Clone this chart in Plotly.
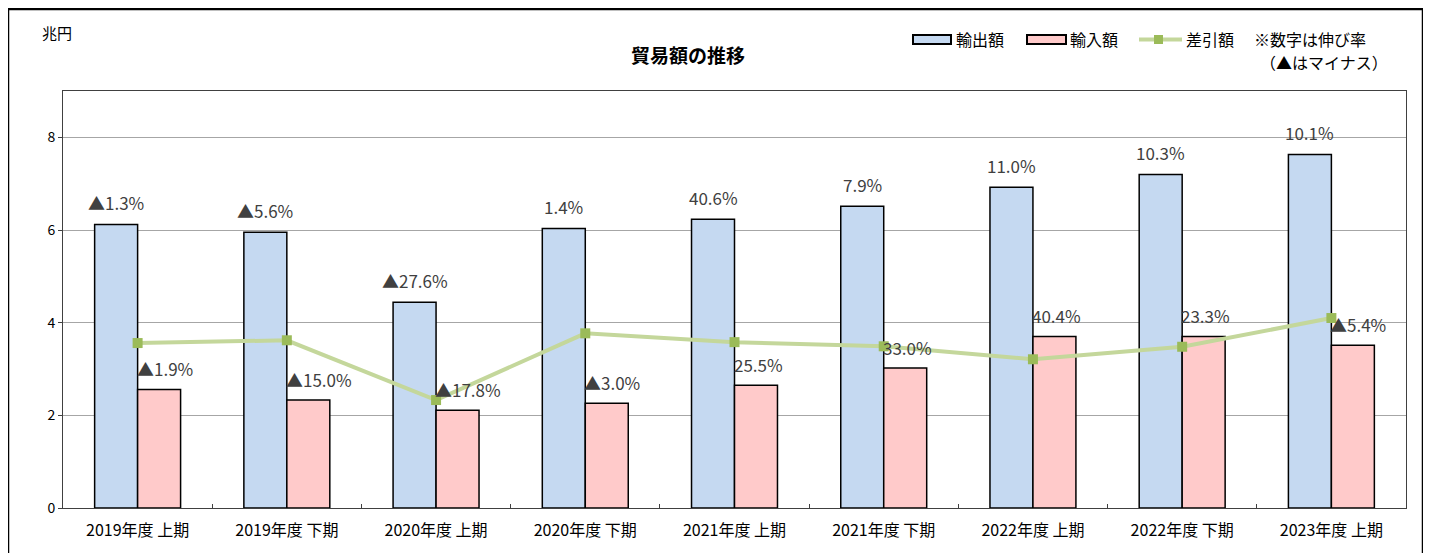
import plotly.graph_objects as go

categories = ["2019年度 上期", "2019年度 下期", "2020年度 上期", "2020年度 下期", "2021年度 上期",
              "2021年度 下期", "2022年度 上期", "2022年度 下期", "2023年度 上期"]
exports = [6.12, 5.95, 4.44, 6.03, 6.23, 6.51, 6.92, 7.20, 7.63]
imports = [2.56, 2.33, 2.11, 2.26, 2.65, 3.02, 3.70, 3.70, 3.51]
balance = [3.56, 3.62, 2.33, 3.77, 3.58, 3.49, 3.21, 3.48, 4.10]
export_growth = ["▲1.3%", "▲5.6%", "▲27.6%", "1.4%", "40.6%", "7.9%", "11.0%", "10.3%", "10.1%"]
import_growth = ["▲1.9%", "▲15.0%", "▲17.8%", "▲3.0%", "25.5%", "33.0%", "40.4%", "23.3%", "▲5.4%"]
y_ticks = [0, 2, 4, 6, 8]

OFF = 8  # page body margin
W, H = 1431 - OFF, 553 - OFF
# plot area in reference (window) pixel coordinates
L, R, T, B = 63, 1406, 91, 508
FONT = "Noto Sans CJK JP"


def px(x):
    return (x - L) / (R - L)


def py(y):
    return (B - y) / (B - T)


fig = go.Figure()
fig.add_trace(go.Bar(x=categories, y=exports, name="輸出額",
                     marker=dict(color="#C5D9F1", line=dict(color="#000000", width=1.5))))
fig.add_trace(go.Bar(x=categories, y=imports, name="輸入額",
                     marker=dict(color="#FFCACA", line=dict(color="#000000", width=1.5))))
fig.add_trace(go.Scatter(x=categories, y=balance, name="差引額", mode="lines+markers",
                         line=dict(color="#C4D79B", width=4),
                         marker=dict(symbol="square", size=10, color="#9BBB59")))

annotations = []
for c, v, t in zip(categories, exports, export_growth):
    annotations.append(dict(x=c, y=v, xref="x", yref="y", text=t, showarrow=False,
                            xshift=-21.5, yshift=22, xanchor="center", yanchor="middle",
                            font=dict(family=FONT, size=17, color="#404040")))
for c, v, t in zip(categories, imports, import_growth):
    annotations.append(dict(x=c, y=v, xref="x", yref="y", text=t, showarrow=False,
                            xshift=-3, yshift=21, xanchor="left", yanchor="middle",
                            font=dict(family=FONT, size=17, color="#404040")))

# title, unit, legend texts
annotations += [
    dict(x=px(688), y=py(54), xref="paper", yref="paper", text="<b>貿易額の推移</b>",
         showarrow=False, xanchor="center", yanchor="middle",
         font=dict(family=FONT, size=19, color="#000000")),
    dict(x=px(40), y=py(33), xref="paper", yref="paper", text="兆円",
         showarrow=False, xanchor="left", yanchor="middle",
         font=dict(family=FONT, size=15, color="#000000")),
    dict(x=px(954), y=py(39), xref="paper", yref="paper", text="輸出額",
         showarrow=False, xanchor="left", yanchor="middle",
         font=dict(family=FONT, size=16, color="#000000")),
    dict(x=px(1068), y=py(39), xref="paper", yref="paper", text="輸入額",
         showarrow=False, xanchor="left", yanchor="middle",
         font=dict(family=FONT, size=16, color="#000000")),
    dict(x=px(1184), y=py(39), xref="paper", yref="paper", text="差引額",
         showarrow=False, xanchor="left", yanchor="middle",
         font=dict(family=FONT, size=16, color="#000000")),
    dict(x=px(1252), y=py(39), xref="paper", yref="paper", text="※数字は伸び率",
         showarrow=False, xanchor="left", yanchor="middle",
         font=dict(family=FONT, size=16, color="#000000")),
    dict(x=px(1258), y=py(62), xref="paper", yref="paper", text="（▲はマイナス）",
         showarrow=False, xanchor="left", yanchor="middle",
         font=dict(family=FONT, size=16, color="#000000")),
]

shapes = [
    # outer frame
    dict(type="rect", xref="paper", yref="paper", x0=px(8), x1=px(1423), y0=py(570), y1=py(9),
         line=dict(color="#000000", width=2.5), layer="below"),
    # legend symbols
    dict(type="rect", xref="paper", yref="paper", x0=px(913), x1=px(951), y0=py(44), y1=py(35),
         fillcolor="#C5D9F1", line=dict(color="#000000", width=2)),
    dict(type="rect", xref="paper", yref="paper", x0=px(1027), x1=px(1066), y0=py(44), y1=py(35),
         fillcolor="#FFCACA", line=dict(color="#000000", width=2)),
    dict(type="line", xref="paper", yref="paper", x0=px(1139), x1=px(1182), y0=py(39.5), y1=py(39.5),
         line=dict(color="#C4D79B", width=4)),
    dict(type="rect", xref="paper", yref="paper", x0=px(1154), x1=px(1163), y0=py(44), y1=py(35),
         fillcolor="#9BBB59", line=dict(width=0)),
]

fig.update_layout(
    width=W, height=H,
    margin=dict(l=L - OFF, r=W - (R - OFF), t=T - OFF, b=H - (B - OFF)),
    paper_bgcolor="#FFFFFF", plot_bgcolor="#FFFFFF",
    barmode="group", bargap=0.424, bargroupgap=0,
    showlegend=False,
    annotations=annotations, shapes=shapes,
    font=dict(family=FONT, color="#000000"),
)
fig.update_xaxes(showline=True, linecolor="#404040", linewidth=1, mirror=True,
                 ticks="inside", tickson="boundaries", ticklen=4, tickcolor="#404040",
                 ticklabelstandoff=8,
                 tickfont=dict(family=FONT, size=16, color="#000000"), showgrid=False)
fig.update_yaxes(range=[0, 9], tickvals=y_ticks, showline=True, linecolor="#404040", linewidth=1,
                 mirror=True, ticks="outside", ticklen=4, tickcolor="#404040",
                 gridcolor="#A6A6A6", gridwidth=1, zeroline=False,
                 tickfont=dict(family=FONT, size=14, color="#000000"))

fig.write_html("out.html")
